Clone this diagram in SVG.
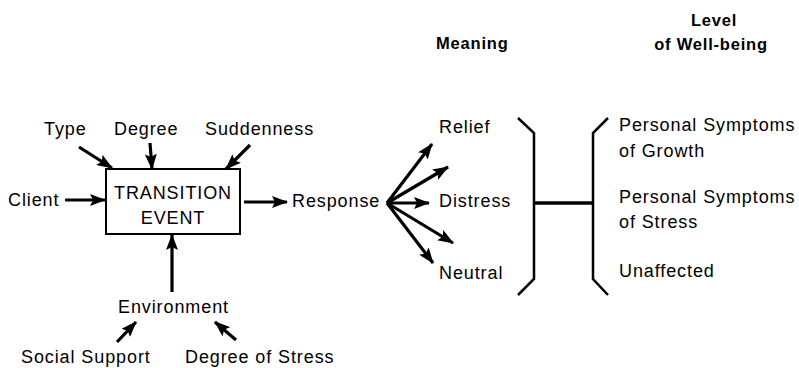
<svg xmlns="http://www.w3.org/2000/svg" width="799" height="368" viewBox="0 0 799 368">
<style>
text{font-family:"Liberation Sans",Arial,sans-serif;font-size:18px;letter-spacing:0.9px;fill:#000}
.b{font-weight:bold;font-size:16.5px;letter-spacing:0.8px}
.m{text-anchor:middle}
.c{stroke:#000;stroke-width:3.2;fill:none}
.br{stroke:#000;stroke-width:2.5;fill:none}
</style>
<defs>
<marker id="ah" markerUnits="userSpaceOnUse" markerWidth="16" markerHeight="12" viewBox="0 0 16 12" refX="15" refY="6" orient="auto">
<path d="M0,0 L16,6 L0,12 L3,6 Z" fill="#000"/>
</marker>
</defs>
<rect width="799" height="368" fill="#fff"/>
<g id="headers">
<text x="436" y="49" class="b">Meaning</text>
<text x="714" y="26" class="b m">Level</text>
<text x="711" y="50" class="b m">of Well-being</text>
</g>
<g id="type"><text x="44" y="135">Type</text></g>
<g id="degree"><text x="114" y="135">Degree</text></g>
<g id="suddenness"><text x="205" y="135">Suddenness</text></g>
<g id="client"><text x="8" y="206">Client</text></g>
<g id="transition-event">
<rect x="106" y="169" width="134" height="65" fill="#fff" stroke="#000" stroke-width="2"/>
<text x="173" y="199" class="m">TRANSITION</text>
<text x="173" y="224" class="m">EVENT</text>
</g>
<g id="response"><text x="292" y="207">Response</text></g>
<g id="environment"><text x="118" y="313">Environment</text></g>
<g id="social-support"><text x="21" y="363">Social Support</text></g>
<g id="degree-of-stress"><text x="185" y="363">Degree of Stress</text></g>
<g id="relief"><text x="439" y="133">Relief</text></g>
<g id="distress"><text x="439" y="207">Distress</text></g>
<g id="neutral"><text x="439" y="279">Neutral</text></g>
<g id="wellbeing">
<text x="619" y="131">Personal Symptoms</text>
<text x="619" y="157">of Growth</text>
<text x="619" y="203">Personal Symptoms</text>
<text x="619" y="228">of Stress</text>
<text x="619" y="277">Unaffected</text>
</g>
<g id="brackets">
<path class="br" d="M518,118 L534,133 L534,279 L518,295"/>
<path class="br" d="M608,118 L593,133 L593,279 L608,295"/>
<path d="M534,203 L593,203" stroke="#000" stroke-width="3.5"/>
</g>
<g id="connectors">
<path class="c" marker-end="url(#ah)" d="M79,147 L112,168"/>
<path class="c" marker-end="url(#ah)" d="M150,143 L152,169"/>
<path class="c" marker-end="url(#ah)" d="M250,145 L226,169"/>
<path class="c" marker-end="url(#ah)" d="M65,200 L105,200"/>
<path class="c" marker-end="url(#ah)" d="M244,202 L287,202"/>
<path class="c" marker-end="url(#ah)" d="M172,292 L172,235"/>
<path class="c" marker-end="url(#ah)" d="M117,342 L136,322"/>
<path class="c" marker-end="url(#ah)" d="M236,340 L215,322"/>
<path class="c" marker-end="url(#ah)" d="M387,203 L432,144"/>
<path class="c" marker-end="url(#ah)" d="M387,203 L448,167"/>
<path class="c" marker-end="url(#ah)" d="M387,203 L429,203"/>
<path class="c" marker-end="url(#ah)" d="M387,203 L453,243"/>
<path class="c" marker-end="url(#ah)" d="M387,203 L433,263"/>
</g>
</svg>
